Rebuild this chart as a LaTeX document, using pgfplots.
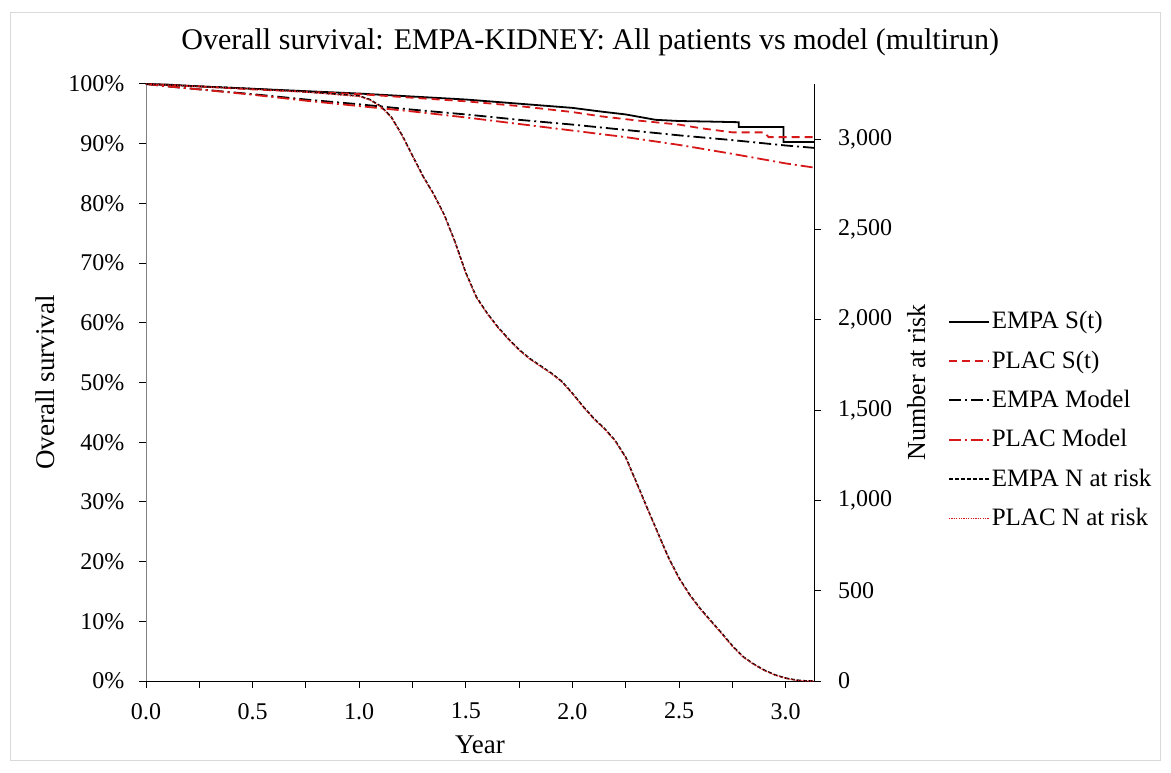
\documentclass[border=0pt]{standalone}
\usepackage{fontspec}
\setmainfont{Liberation Serif}
\usepackage{pgfplots}
\pgfplotsset{compat=1.18}
\definecolor{kmred}{RGB}{214,24,24}
\definecolor{axgray}{RGB}{128,128,128}

\pgfplotstableread{
t N
0 3305
0.25 3292
0.5 3279
0.75 3262
1.0 3239
1.05 3219
1.1 3183
1.15 3123
1.2 3024
1.25 2908
1.3 2793
1.35 2694
1.4 2578
1.45 2429
1.5 2260
1.55 2125
1.6 2036
1.65 1960
1.7 1894
1.75 1834
1.8 1785
1.85 1745
1.9 1705
1.95 1659
2.0 1593
2.05 1520
2.1 1454
2.15 1398
2.2 1332
2.25 1239
2.3 1100
2.35 960
2.4 822
2.45 685
2.5 570
2.55 478
2.6 400
2.65 332
2.7 265
2.75 195
2.8 135
2.85 94
2.9 60
2.95 34
3.0 16
3.05 5
3.1 0
3.13 0
}\empanrisk

\pgfplotstableread{
t N
0 3305
0.25 3291
0.5 3277
0.75 3260
1.0 3236
1.05 3216
1.1 3180
1.15 3121
1.2 3022
1.25 2906
1.3 2790
1.35 2692
1.4 2576
1.45 2426
1.5 2257
1.55 2122
1.6 2033
1.65 1957
1.7 1891
1.75 1831
1.8 1782
1.85 1742
1.9 1702
1.95 1656
2.0 1590
2.05 1517
2.1 1451
2.15 1395
2.2 1329
2.25 1236
2.3 1097
2.35 957
2.4 819
2.45 682
2.5 567
2.55 475
2.6 397
2.65 329
2.7 262
2.75 192
2.8 133
2.85 92
2.9 58
2.95 33
3.0 15
3.05 4
3.1 0
3.13 0
}\placnrisk

\begin{document}
\begin{tikzpicture}[x=1pt,y=1pt]
\useasboundingbox (0,0) rectangle (585.5,386);
\draw[black!15] (5.35,379.6) rectangle (580.2,6);

\begin{axis}[
  at={(73pt,45.5pt)}, anchor=south west,
  scale only axis, width=334pt, height=298.5pt,
  xmin=0, xmax=3.133, ymin=0, ymax=100,
  axis x line*=bottom, axis y line*=left,
  axis line style={-},
  x axis line style={black},
  y axis line style={axgray},
  xtick={0,0.5,1,1.5,2,2.5,3},
  xticklabels={0.0,0.5,1.0,1.5,2.0,2.5,3.0},
  minor xtick={0.25,0.75,1.25,1.75,2.25,2.75},
  ytick={0,10,...,100},
  yticklabels={0\%,10\%,20\%,30\%,40\%,50\%,60\%,70\%,80\%,90\%,100\%},
  tick align=outside, tick pos=left,
  major tick length=3.5pt, minor tick length=3.5pt,
  tick style={black, line width=0.5pt},
  every minor tick/.style={black, line width=0.5pt},
  tick label style={font=\fontsize{12}{14}\selectfont},
  xticklabel style={yshift=-4pt},
  yticklabel style={xshift=-3.8pt},
  xlabel={Year}, ylabel={Overall survival},
  label style={font=\fontsize{13.5}{16}\selectfont},
  xlabel style={at={(rel axis cs:0.5,-0.107)}, anchor=center},
  ylabel style={at={(rel axis cs:-0.151,0.5)}, anchor=center},
  title={Overall survival: EMPA-KIDNEY: All patients vs model (multirun)},
  every axis title/.style={font=\fontsize{15}{18}\selectfont, at={(0.665,1.07)}, anchor=center},
  clip=false,
]
% EMPA S(t)
\addplot[black, line width=0.9pt] coordinates {
(0,100)(0.1,99.9)(0.25,99.6)(0.5,99.2)(0.75,98.8)(1.0,98.4)(1.25,97.9)(1.5,97.4)(1.75,96.7)(2.0,96.0)(2.13,95.4)(2.25,94.9)(2.39,94.0)(2.5,93.8)(2.65,93.7)(2.78,93.6)(2.78,92.8)(2.99,92.8)(2.99,90.3)(3.133,90.3)
};
% PLAC S(t)
\addplot[kmred, line width=0.9pt, dash pattern=on 4pt off 2.5pt] coordinates {
(0,100)(0.25,99.6)(0.5,99.1)(0.75,98.7)(1.0,98.3)(1.25,97.7)(1.5,97.1)(1.75,96.3)(2.0,95.3)(2.13,94.6)(2.3,93.9)(2.5,93.2)(2.6,92.6)(2.75,91.9)(2.9,91.9)(2.92,91.1)(3.133,91.1)
};
% EMPA Model
\addplot[black, line width=0.9pt, dash pattern=on 6pt off 2pt on 1pt off 2pt] coordinates {
(0,100)(0.1,99.6)(0.25,99.1)(0.5,98.3)(0.75,97.4)(1.0,96.6)(1.25,95.7)(1.5,94.9)(1.75,94.0)(2.0,93.2)(2.25,92.3)(2.5,91.4)(2.75,90.6)(3.0,89.7)(3.133,89.3)
};
% PLAC Model
\addplot[kmred, line width=0.9pt, dash pattern=on 6pt off 2pt on 1pt off 2pt] coordinates {
(0,100)(0.1,99.6)(0.25,99.1)(0.5,98.2)(0.75,97.2)(1.0,96.3)(1.25,95.4)(1.5,94.4)(1.75,93.3)(2.0,92.2)(2.25,91.1)(2.5,89.8)(2.75,88.3)(3.0,86.7)(3.133,86.0)
};
\end{axis}

\begin{axis}[
  at={(73pt,45.5pt)}, anchor=south west,
  scale only axis, width=334pt, height=298.5pt,
  xmin=0, xmax=3.133, ymin=0, ymax=3305,
  axis x line=none, axis y line*=right,
  axis line style={-, black},
  ytick={0,500,...,3000},
  yticklabels={0,500,{1,000},{1,500},{2,000},{2,500},{3,000}},
  tick align=outside,
  major tick length=3.5pt,
  tick style={black, line width=0.5pt},
  tick label style={font=\fontsize{12}{14}\selectfont},
  yticklabel style={xshift=5pt},
  ylabel={Number at risk},
  label style={font=\fontsize{13}{16}\selectfont},
  ylabel style={at={(rel axis cs:1.153,0.5)}, anchor=center},
  legend style={at={(rel axis cs:1.2,0.623)}, anchor=north west, draw=none, fill=none,
    font=\fontsize{12.5}{14}\selectfont, row sep=7.5pt, inner sep=0pt,
    nodes={inner sep=1pt}},
  legend cell align=left,
  legend image code/.code={\draw[#1] (0pt,0pt) -- (20pt,0pt);},
  clip=false,
]
\addlegendimage{black, line width=0.9pt}
\addlegendentry{EMPA S(t)}
\addlegendimage{kmred, line width=0.9pt, dash pattern=on 4pt off 2.5pt}
\addlegendentry{PLAC S(t)}
\addlegendimage{black, line width=0.9pt, dash pattern=on 6pt off 2pt on 1pt off 2pt}
\addlegendentry{EMPA Model}
\addlegendimage{kmred, line width=0.9pt, dash pattern=on 6pt off 2pt on 1pt off 2pt}
\addlegendentry{PLAC Model}
\addplot[black, line width=0.8pt, dash pattern=on 2pt off 1pt] table[x=t, y=N] {\empanrisk};
\addlegendentry{EMPA N at risk}
\addplot[kmred, line width=0.6pt, dash pattern=on 0.6pt off 0.6pt] table[x=t, y=N] {\placnrisk};
\addlegendentry{PLAC N at risk}
\end{axis}
\end{tikzpicture}
\end{document}
